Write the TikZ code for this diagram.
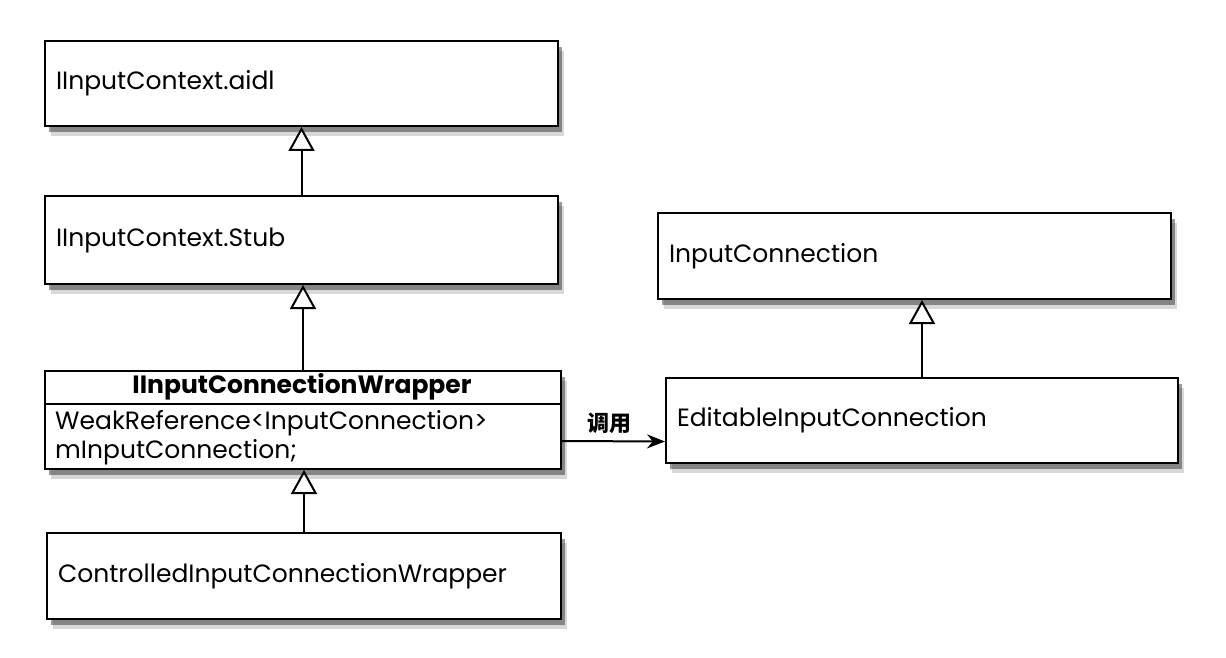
\documentclass[tikz,border=0pt]{standalone}
\usepackage{fontspec}
\setmainfont{Poppins}
\newfontfamily\cjk{Noto Sans CJK SC}
\usetikzlibrary{positioning, shadows, arrows.meta}

\tikzset{
  classbox/.style={draw, line width=2pt, fill=white, rectangle, anchor=north west,
    inner xsep=11pt, align=left,
    drop shadow={shadow xshift=6pt, shadow yshift=-10pt, fill=black!30},
    drop shadow={shadow xshift=4pt, shadow yshift=-6pt, fill=black!80}},
  inherit/.style={-{Triangle[open, length=24pt, width=26pt, fill=white]}, line width=2pt},
  calls/.style={-{Stealth[length=18pt, width=14pt]}, line width=2pt},
}

\begin{document}
\begin{tikzpicture}[x=1pt, y=-1pt, font=\fontsize{25}{29}\selectfont]
    \useasboundingbox (0,0) rectangle (1226,658);

    % left column
    \node[classbox, minimum width=513pt, minimum height=85pt, text width=491pt] (aidl) at (44,40) {IInputContext.aidl};
    \node[classbox, minimum width=513pt, minimum height=88pt, text width=491pt] (stub) at (44,195) {IInputContext.Stub};
    \node[classbox, minimum width=516pt, minimum height=98pt] (wrap) at (44,370) {};
    \node[classbox, minimum width=514pt, minimum height=86pt, text width=492pt] (ctrl) at (46,532) {ControlledInputConnectionWrapper};

    \node[font=\fontsize{25}{29}\bfseries] (wraptitle) at (302,387) {IInputConnectionWrapper};
    \draw[line width=2pt] ([yshift=-34pt]wrap.north west) -- ([yshift=-34pt]wrap.north east);
    \node[anchor=north west, align=left, inner sep=0pt] (wrapfields) at (55,410) {WeakReference<InputConnection>\\mInputConnection;};

    % right column
    \node[classbox, minimum width=513pt, minimum height=86pt, text width=491pt] (ic) at (657,212) {InputConnection};
    \node[classbox, minimum width=512pt, minimum height=85pt, text width=490pt] (ed) at (665,377) {EditableInputConnection};

    \draw[inherit] (stub.north) -- (aidl.south);
    \draw[inherit] (wrap.north) -- (wrap.north |- stub.south);
    \draw[inherit] (ctrl.north) -- (ctrl.north |- wrap.south);
    \draw[inherit] (ed.north) -- (ed.north |- ic.south);

    \draw[calls] ([yshift=-21pt]wrap.east) -- node[above=3pt, xshift=-4pt, font=\cjk\bfseries\fontsize{22}{26}\selectfont] (calllabel) {调用} ([yshift=-21pt]ed.west);
\end{tikzpicture}
\end{document}
